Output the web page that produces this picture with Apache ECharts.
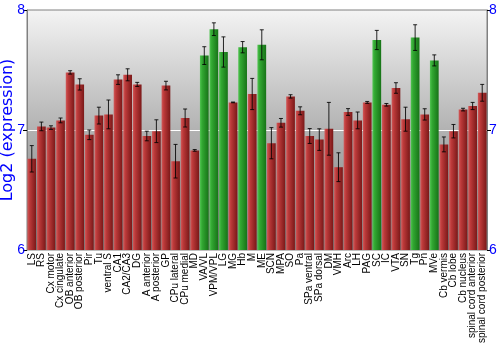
<!DOCTYPE html>
<html>
<head>
<meta charset="utf-8">
<script src="https://cdn.jsdelivr.net/npm/echarts@6/dist/echarts.min.js"></script>
<style>
  html, body { margin: 0; padding: 0; background: #ffffff; }
  #chart { width: 500px; height: 350px; }
</style>
</head>
<body>
<div id="chart"></div>
<script>
// Brain regions along the x axis
const regions = [
  'LS', 'RS', 'Cx motor', 'Cx cingulate', 'OB anterior', 'OB posterior', 'Pir', 'Tu',
  'ventral S', 'CA1', 'CA2/CA3', 'DG', 'A anterior', 'A posterior', 'GP', 'CPu lateral',
  'CPu medial', 'MD', 'VA/VL', 'VPM/VPL', 'LG', 'MG', 'Hb', 'M', 'ME', 'SCN', 'MPA', 'SO',
  'Pa', 'SPa ventral', 'SPa dorsal', 'DM', 'VMH', 'Arc', 'LH', 'PAG', 'SC', 'IC', 'VTA',
  'SN', 'Tg', 'Pn', 'MVe', 'Cb vermis', 'Cb lobe', 'Cb nucleus', 'spinal cord anterior',
  'spinal cord posterior'
];

// Mean log2 expression per region
const expression = [
  6.76, 7.03, 7.02, 7.08, 7.48, 7.38, 6.96, 7.12,
  7.13, 7.42, 7.46, 7.38, 6.95, 6.99, 7.37, 6.74,
  7.10, 6.83, 7.62, 7.84, 7.65, 7.23, 7.69, 7.30, 7.71, 6.89, 7.06, 7.28,
  7.16, 6.95, 6.92, 7.01, 6.69, 7.15, 7.08, 7.23, 7.75, 7.21, 7.35,
  7.09, 7.77, 7.13, 7.58, 6.88, 6.99, 7.17, 7.20,
  7.31
];

// Standard error per region
const stdErr = [
  0.11, 0.036, 0.015, 0.02, 0.014, 0.047, 0.04, 0.07,
  0.12, 0.04, 0.05, 0.017, 0.04, 0.095, 0.036, 0.14,
  0.075, 0.007, 0.074, 0.053, 0.126, 0.003, 0.047, 0.13, 0.125, 0.13, 0.036, 0.014,
  0.033, 0.062, 0.09, 0.22, 0.12, 0.028, 0.07, 0.008, 0.08, 0.011, 0.044,
  0.10, 0.107, 0.047, 0.046, 0.062, 0.056, 0.011, 0.03,
  0.07
];

// Regions highlighted in green
const highlighted = ['VA/VL', 'VPM/VPL', 'LG', 'Hb', 'ME', 'SC', 'Tg', 'MVe'];

// Y axis range and tick step
const yMin = 6, yMax = 8, yStep = 1;

function barFill(light, mid, dark) {
  return new echarts.graphic.LinearGradient(0, 0, 1, 0, [
    { offset: 0, color: light },
    { offset: 0.25, color: mid },
    { offset: 1, color: dark }
  ]);
}
const redFill = barFill('#d25a5a', '#bd3a3a', '#7a1818');
const greenFill = barFill('#52c452', '#32a832', '#177317');

const barData = expression.map((v, i) => ({
  value: v,
  itemStyle: { color: highlighted.includes(regions[i]) ? greenFill : redFill }
}));
const errData = expression.map((v, i) => [i, v, stdErr[i]]);

const blue = '#0000ff';
const font = 'Liberation Sans, Arial, sans-serif';
const chart = echarts.init(document.getElementById('chart'), null, { renderer: 'canvas' });

const yAxisBase = {
  type: 'value', min: yMin, max: yMax, interval: yStep,
  axisLine: { show: true, lineStyle: { color: '#808080' } },
  axisTick: { show: true, length: 4, lineStyle: { color: '#000' } },
  axisLabel: { color: blue, fontSize: 14, fontFamily: font, margin: 2 }
};

chart.setOption({
  animation: false,
  grid: {
    left: 27, right: 13, top: 10, bottom: 100,
    containLabel: false,
    outerBoundsMode: 'none',
    show: true,
    borderColor: '#808080', borderWidth: 1,
    backgroundColor: new echarts.graphic.LinearGradient(0, 0, 0, 1, [
      { offset: 0, color: '#f4f4f4' },
      { offset: 0.5, color: '#b2b2b2' },
      { offset: 1, color: '#7c7c7c' }
    ])
  },
  xAxis: {
    type: 'category', data: regions,
    axisLine: { show: false },
    axisTick: { show: false },
    axisLabel: {
      interval: 0, rotate: 90, fontSize: 10, color: '#000',
      fontFamily: font, margin: 3
    }
  },
  yAxis: [
    Object.assign({}, yAxisBase, {
      position: 'left',
      name: 'Log2 (expression)', nameLocation: 'middle', nameGap: 11,
      nameMoveOverlap: false,
      nameTextStyle: { color: blue, fontSize: 16, fontFamily: 'DejaVu Sans, Verdana, sans-serif' },
      splitLine: { show: true, showMinLine: false, showMaxLine: false, lineStyle: { color: '#ffffff', width: 1 } }
    }),
    Object.assign({}, yAxisBase, {
      position: 'right',
      splitLine: { show: false }
    })
  ],
  series: [
    {
      type: 'bar', data: barData, barCategoryGap: '9%',
      itemStyle: { borderWidth: 0 }
    },
    {
      type: 'custom', data: errData, z: 5,
      renderItem: function (params, api) {
        const i = api.value(0), v = api.value(1), e = api.value(2);
        const top = api.coord([i, v + e]);
        const bot = api.coord([i, v - e]);
        const hw = 2;
        const style = { stroke: 'rgba(0,0,0,0.85)', lineWidth: 1 };
        return {
          type: 'group',
          children: [
            { type: 'line', shape: { x1: top[0], y1: top[1], x2: bot[0], y2: bot[1] }, style: style },
            { type: 'line', shape: { x1: top[0] - hw, y1: top[1], x2: top[0] + hw, y2: top[1] }, style: style },
            { type: 'line', shape: { x1: bot[0] - hw, y1: bot[1], x2: bot[0] + hw, y2: bot[1] }, style: style }
          ]
        };
      }
    }
  ]
});
</script>
</body>
</html>
